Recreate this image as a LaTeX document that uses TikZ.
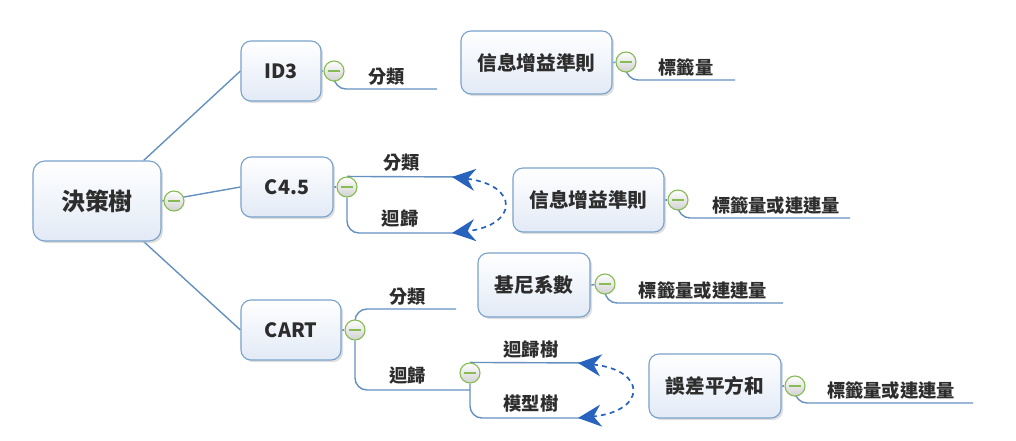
\documentclass[tikz,border=0pt]{standalone}
\usepackage{fontspec}
\setmainfont{Noto Sans CJK TC}
\usetikzlibrary{arrows.meta, shadows, backgrounds, positioning}
\definecolor{boxblue}{RGB}{122,162,204}
\definecolor{boxfill}{RGB}{226,234,246}
\definecolor{linkblue}{RGB}{100,145,190}
\definecolor{togglegreen}{RGB}{135,188,85}
\definecolor{relblue}{RGB}{40,100,190}
\definecolor{textgray}{RGB}{45,45,45}

\begin{document}
\begin{tikzpicture}[x=0.025cm, y=-0.025cm,
  topic/.style={draw=boxblue, line width=0.8pt, rounded corners=0.25cm,
    top color=white, bottom color=boxfill, minimum height=1.6cm, inner sep=0pt,
    font=\fontsize{14}{16}\selectfont\bfseries, text=textgray,
    drop shadow={shadow xshift=1.5pt, shadow yshift=-1.5pt, fill=black!25, opacity=0.5}},
  toggle/.style={circle, draw=togglegreen, line width=0.8pt, top color=white,
    bottom color=black!18, minimum size=0.5cm, inner sep=0pt,
    path picture={\draw[togglegreen, line width=1.3pt]
      ([xshift=-4.5pt]path picture bounding box.center) --
      ([xshift=4.5pt]path picture bounding box.center);}},
  link/.style={draw=linkblue, line width=1pt},
  branch/.style={link, rounded corners=0.3cm},
  leaf/.style={font=\fontsize{13}{15}\selectfont\bfseries, text=textgray, inner sep=2pt},
  relarrow/.style={draw=relblue, line width=1.2pt, dash pattern=on 3.5pt off 3pt,
    {Stealth[length=0.58cm, width=0.55cm]}-{Stealth[length=0.58cm, width=0.55cm]}}
]
  \useasboundingbox (0,0) rectangle (1016,440);

  % Topics
  \node[topic, minimum width=3.2cm, minimum height=2cm, rounded corners=0.3cm,
    font=\fontsize{17}{19}\selectfont\bfseries] (root) at (97,201) {決策樹};
  \node[topic, minimum width=2cm, minimum height=1.5cm] (id3) at (281,71) {ID3};
  \node[topic, minimum width=2.3cm, minimum height=1.5cm] (c45) at (287,187) {C4.5};
  \node[topic, minimum width=2.5cm, minimum height=1.5cm] (cart) at (291,330) {CART};
  \node[topic, minimum width=3.775cm, minimum height=1.575cm] (gainA) at (536.5,62.5) {信息增益準則};
  \node[topic, minimum width=3.775cm] (gainB) at (588.5,200) {信息增益準則};
  \node[topic, minimum width=2.8cm] (gini) at (534,285) {基尼系數};
  \node[topic, minimum width=3.3cm] (sse) at (715,386) {誤差平方和};

  % Toggles
  \node[toggle] (rootT) at (174,201) {};
  \node[toggle] (id3T) at (334,71) {};
  \node[toggle] (c45T) at (347,187) {};
  \node[toggle] (cartT) at (355,330) {};
  \node[toggle] (regT) at (470,373) {};
  \node[toggle] (gainAT) at (626,62) {};
  \node[toggle] (gainBT) at (678,200) {};
  \node[toggle] (giniT) at (605,284) {};
  \node[toggle] (sseT) at (795,386) {};

  % Branch ends
  \coordinate (id3clsEnd) at (437,89);
  \coordinate (gainAEnd) at (735,80);
  \coordinate (c45clsEnd) at (468,177);
  \coordinate (c45regEnd) at (468,233);
  \coordinate (gainBEnd) at (850,218);
  \coordinate (cartclsEnd) at (456,309);
  \coordinate (cartregEnd) at (470,390);
  \coordinate (rtreeEnd) at (592,363);
  \coordinate (mtreeEnd) at (592,418);
  \coordinate (giniEnd) at (783,303);
  \coordinate (sseEnd) at (973,403);

  % Links
  \begin{scope}[on background layer]
    \draw[link] (root.41) -- (id3.west);
    \draw[link] (root.east) -- (c45.west);
    \draw[link] (root.-41) -- (cart.west);
    \draw[link] (id3.east) -- (id3T);
    \draw[link] (c45.east) -- (c45T);
    \draw[link] (cart.east) -- (cartT);
    \draw[link] (gainA.east) -- (gainAT);
    \draw[link] (gainB.east) -- (gainBT);
    \draw[link] (gini.east) -- (giniT);
    \draw[link] (sse.east) -- (sseT);
    \draw[branch] (id3T) |- node[leaf, above, pos=0.757] (id3cls) {分類} (id3clsEnd);
    \draw[branch] (gainAT) |- node[leaf, above, pos=0.775] (gainAlab) {標籤量} (gainAEnd);
    \draw[link] (c45T.north) -- node[leaf, above=1pt, pos=0.45] (c45cls) {分類} (c45clsEnd);
    \draw[branch] (c45T) |- node[leaf, above=1.5pt, pos=0.72] (c45reg) {迴歸} (c45regEnd);
    \draw[branch] (gainBT) |- node[leaf, above, pos=0.785] (gainBlab) {標籤量或連連量} (gainBEnd);
    \draw[branch] (cartT) |- node[leaf, above, pos=0.76] (cartcls) {分類} (cartclsEnd);
    \draw[branch] (cartT) |- node[leaf, above=1.5pt, pos=0.73] (cartreg) {迴歸} (cartregEnd);
    \draw[link] (regT.north) -- node[leaf, above=1pt, pos=0.5] (rtree) {迴歸樹} (rtreeEnd);
    \draw[branch] (regT) |- node[leaf, above=1.5pt, pos=0.75] (mtree) {模型樹} (mtreeEnd);
    \draw[branch] (giniT) |- node[leaf, above, pos=0.775] (ginilab) {標籤量或連連量} (giniEnd);
    \draw[branch] (sseT) |- node[leaf, above, pos=0.77] (sselab) {標籤量或連連量} (sseEnd);
  \end{scope}

  % Relations
  \coordinate (c45tipA) at (452,177);
  \coordinate (c45tipB) at (452,233);
  \coordinate (regtipA) at (578,363);
  \coordinate (regtipB) at (578,418);
  \draw[relarrow] (c45tipA) .. controls (519,185) and (519,225) .. (c45tipB);
  \draw[relarrow] (regtipA) .. controls (647,370) and (647,411) .. (regtipB);
\end{tikzpicture}
\end{document}
